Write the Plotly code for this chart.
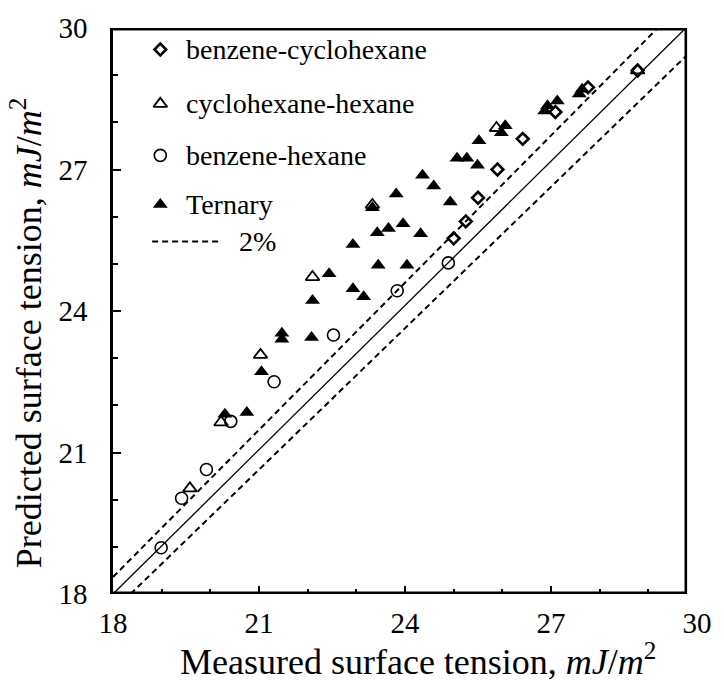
import plotly.graph_objects as go

# Measured vs predicted surface tension (mJ/m^2)
bc_measured = [25.00, 25.25, 25.50, 25.90, 26.42, 27.09, 27.76, 28.78]
bc_predicted = [25.54, 25.90, 26.40, 27.00, 27.65, 28.22, 28.74, 29.10]

ch_measured = [19.58, 20.22, 21.03, 22.10, 23.33, 25.88, 28.78]
ch_predicted = [20.24, 21.64, 23.07, 24.72, 26.25, 27.88, 29.10]

bh_measured = [18.99, 19.41, 19.92, 20.42, 21.31, 22.53, 23.84, 24.89]
bh_predicted = [18.98, 20.03, 20.64, 21.66, 22.50, 23.49, 24.43, 25.02]

tern_measured = [20.30, 20.75, 21.05, 21.47, 21.47, 22.08, 22.10, 22.93, 23.15,
                 22.44, 23.45, 24.04, 22.93, 23.43, 23.66, 23.96, 24.32, 23.33,
                 23.82, 24.36, 24.59, 24.93, 25.07, 25.27, 25.49, 25.52, 26.06,
                 25.98, 26.93, 27.13, 26.87, 27.64, 27.58]
tern_predicted = [21.81, 21.85, 22.71, 23.53, 23.40, 23.44, 24.22, 24.47, 24.30,
                  24.79, 24.97, 24.97, 25.41, 25.66, 25.75, 25.85, 25.64, 26.19,
                  26.48, 26.88, 26.65, 26.31, 27.24, 27.24, 27.09, 27.61, 27.93,
                  27.78, 28.35, 28.45, 28.24, 28.70, 28.60]

tick_vals = [18, 21, 24, 27, 30]
deviation = 0.02

AX_MIN, AX_MAX = 18, 30
FRAME_RIGHT = 29.77          # right edge of the box, in x-axis units
SPAN = AX_MAX - AX_MIN
FONT = "Liberation Serif"
FS_TICK = 29
FS_LEG = 28
FS_TITLE = 36


def ax(frac):
    """Convert a fraction of the plot area into axis units."""
    return AX_MIN + frac * SPAN


def box_x(u):
    """The box spans AX_MIN..AX_MAX in its own units but ends at FRAME_RIGHT on the x axis."""
    return [AX_MIN + (v - AX_MIN) * (FRAME_RIGHT - AX_MIN) / SPAN for v in u]


fig = go.Figure()

# parity line and +/- 2% band, corner to corner of the box
up = 1 + deviation
lo = 1 - deviation
ref_lines = [
    ([AX_MIN, AX_MAX], [AX_MIN, AX_MAX], dict(color="black", width=1.3)),
    ([AX_MIN, AX_MAX / up], [AX_MIN * up, AX_MAX], dict(color="black", width=2, dash="6px,4px")),
    ([AX_MIN / lo, AX_MAX], [AX_MIN, AX_MAX * lo], dict(color="black", width=2, dash="6px,4px")),
]
for u, v, style in ref_lines:
    fig.add_trace(go.Scatter(x=box_x(u), y=v, mode="lines", line=style,
                             showlegend=False, hoverinfo="skip"))

styles = {
    "benzene-cyclohexane": dict(symbol="diamond-open", size=9, line=dict(width=2.6, color="black"), color="black"),
    "cyclohexane-hexane": dict(symbol="triangle-up-open", size=12, line=dict(width=1.8, color="black"), color="black"),
    "benzene-hexane": dict(symbol="circle-open", size=12, line=dict(width=1.6, color="black"), color="black"),
    "Ternary": dict(symbol="triangle-up", size=13, color="black", line=dict(width=0)),
}

series = [
    ("Ternary", tern_measured, tern_predicted),
    ("benzene-hexane", bh_measured, bh_predicted),
    ("cyclohexane-hexane", ch_measured, ch_predicted),
    ("benzene-cyclohexane", bc_measured, bc_predicted),
]
for name, xs, ys in series:
    fig.add_trace(go.Scatter(x=xs, y=ys, mode="markers", name=name,
                             marker=styles[name], showlegend=False))

# hand-placed legend inside the box
legend_rows = [
    ("benzene-cyclohexane", 0.962),
    ("cyclohexane-hexane", 0.866),
    ("benzene-hexane", 0.775),
    ("Ternary", 0.688),
]
leg_x = 0.081
text_x = 0.121
for name, yf in legend_rows:
    fig.add_trace(go.Scatter(x=[ax(leg_x)], y=[ax(yf)], mode="markers",
                             marker=styles[name], showlegend=False, hoverinfo="skip"))
    fig.add_annotation(x=text_x, y=yf, xref="paper", yref="paper", text=name,
                       showarrow=False, xanchor="left", yanchor="middle",
                       font=dict(family=FONT, size=FS_LEG, color="black"))
dash_y = 0.623
fig.add_trace(go.Scatter(x=[ax(0.067), ax(0.185)], y=[ax(dash_y), ax(dash_y)], mode="lines",
                         line=dict(color="black", width=2, dash="6px,4px"), showlegend=False, hoverinfo="skip"))
fig.add_annotation(x=0.212, y=dash_y, xref="paper", yref="paper", text="2%",
                   showarrow=False, xanchor="left", yanchor="middle",
                   font=dict(family=FONT, size=FS_LEG, color="black"))

# box edges (edges on the plot border are drawn wider since half is clipped)
box = [
    dict(x0=AX_MIN, x1=FRAME_RIGHT, y0=AX_MIN, y1=AX_MIN, w=5.2),
    dict(x0=AX_MIN, x1=FRAME_RIGHT, y0=AX_MAX, y1=AX_MAX, w=5.2),
    dict(x0=FRAME_RIGHT, x1=FRAME_RIGHT, y0=AX_MIN, y1=AX_MAX, w=2.6),
]
for e in box:
    fig.add_shape(type="line", x0=e["x0"], x1=e["x1"], y0=e["y0"], y1=e["y1"],
                  xref="x", yref="y", line=dict(color="black", width=e["w"]))

unit = "<i>mJ</i>/<i>m</i><sup>2</sup>"
fig.add_annotation(x=0.523, y=-0.115, xref="paper", yref="paper", yanchor="middle",
                   text="Measured surface tension, " + unit, showarrow=False,
                   font=dict(family=FONT, size=FS_TITLE, color="black"))
fig.add_annotation(x=-0.148, y=0.46, xref="paper", yref="paper", xanchor="center",
                   text="Predicted surface tension, " + unit, showarrow=False, textangle=-90,
                   font=dict(family=FONT, size=FS_TITLE, color="black"))

axis_common = dict(
    tickmode="array", tickvals=tick_vals, ticktext=[str(v) for v in tick_vals],
    ticks="inside", ticklen=8, tickwidth=2, tickcolor="black",
    minor=dict(ticks="inside", dtick=1, ticklen=5, tickwidth=2, tickcolor="black"),
    showgrid=False, zeroline=False,
    tickfont=dict(family=FONT, size=FS_TICK, color="black"),
)
fig.update_layout(
    width=724, height=685,
    margin=dict(l=113, r=17, t=21, b=91),
    plot_bgcolor="white", paper_bgcolor="white",
    font=dict(family=FONT, size=FS_LEG, color="black"),
    xaxis=dict(range=[AX_MIN, AX_MAX], showline=False, ticklabelstandoff=9, **axis_common),
    yaxis=dict(range=[AX_MIN, AX_MAX], showline=True, linecolor="black", linewidth=2.6,
               ticklabelstandoff=17, **axis_common),
    showlegend=False,
)

fig.write_html("out.html")
